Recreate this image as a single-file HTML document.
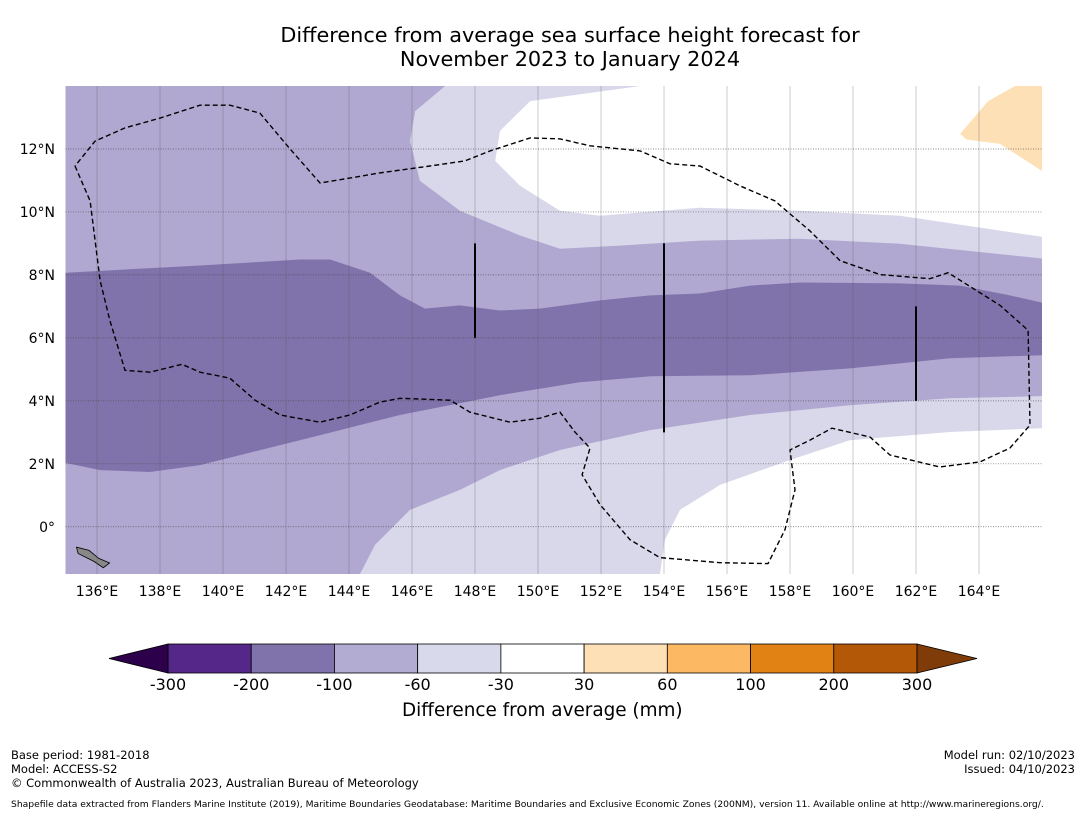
<!DOCTYPE html>
<html><head><meta charset="utf-8"><style>
body{margin:0;background:#fff;font-family:"DejaVu Sans","Liberation Sans",sans-serif;}
#wrap{position:relative;width:1085px;height:816px;overflow:hidden;}
.t{position:absolute;white-space:nowrap;color:#000;}
</style></head><body>
<div id="wrap">
<div class="t" style="left:0;width:1140px;top:23px;text-align:center;font-size:20.8px;line-height:24px;">Difference from average sea surface height forecast for<br>November 2023 to January 2024</div>
<svg id="map" width="1085" height="816" style="position:absolute;left:0;top:0"></svg>
<div class="t" style="left:402px;top:700px;font-size:18.4px;">Difference from average (mm)</div>
<div class="t" style="left:11px;top:748px;font-size:11.5px;line-height:14px;">Base period: 1981-2018<br>Model: ACCESS-S2<br>© Commonwealth of Australia 2023, Australian Bureau of Meteorology</div>
<div class="t" style="right:10px;top:748px;font-size:11.5px;line-height:14px;text-align:right;">Model run: 02/10/2023<br>Issued: 04/10/2023</div>
<div class="t" style="left:11px;top:799px;font-size:9.2px;">Shapefile data extracted from Flanders Marine Institute (2019), Maritime Boundaries Geodatabase: Maritime Boundaries and Exclusive Economic Zones (200NM), version 11. Available online at http://www.marineregions.org/.</div>
</div>
<script>
const lonTicks=[136,138,140,142,144,146,148,150,152,154,156,158,160,162,164];
const latTicks=[0,2,4,6,8,10,12];
const levels=[-300,-200,-100,-60,-30,30,60,100,200,300];
const levelColors=["#542788","#8073ac","#b2abd2","#d8daeb","#ffffff","#fee0b6","#fdb863","#e08214","#b35806"];
const darkBand=[[135,8.07],[139.27,8.3],[142.44,8.49],[143.4,8.49],[144.67,8.07],[145.62,7.35],[146.41,6.93],[147.52,7.03],[148.79,6.87],[150.06,6.93],[151.97,7.19],[153.56,7.35],[155.14,7.41],[156.73,7.66],[158.32,7.76],[161.49,7.73],[163.4,7.66],[164.98,7.35],[166,7.12],[166,5.45],[163.08,5.35],[159.9,5.03],[156.73,4.81],[153.56,4.78],[151.33,4.59],[148.79,4.18],[145.62,3.55],[142.44,2.75],[139.27,1.96],[137.68,1.74],[136.1,1.8],[135,2.03]];
const lightNorth=[[147.05,14],[146.1,13.2],[145.94,12.25],[146.25,10.99],[147.52,10.04],[149.43,9.25],[150.7,8.83],[152.6,8.93],[155.14,9.09],[158.32,9.15],[161.49,8.99],[166,8.52],[166,14]];
const whiteNorth=[[153.24,14],[149.75,13.52],[148.79,12.57],[148.64,11.62],[149.43,10.83],[150.7,10.04],[151.97,9.88],[155.14,10.13],[158.32,10.04],[161.49,9.88],[166,9.21],[166,14]];
const lightSouth=[[144.35,-1.5],[144.83,-0.57],[145.94,0.54],[147.52,1.17],[148.79,1.8],[150.7,2.44],[153.56,3.07],[156.73,3.55],[159.9,3.86],[163.08,4.08],[166,4.15],[166,-1.5]];
const whiteSouth=[[153.87,-1.5],[154.03,-0.41],[154.51,0.54],[155.78,1.33],[158,2.12],[159.9,2.75],[163.08,3.01],[166,3.13],[166,-1.5]];
const posNE=[[163.4,12.48],[164.29,13.52],[165.14,14],[166,14],[166,11.3],[164.67,12.16],[163.6,12.3]];
const eez=[[135.3,11.46],[135.78,10.35],[135.94,9.09],[136.1,7.82],[136.41,6.55],[136.89,4.97],[137.68,4.91],[138.7,5.16],[139.27,4.91],[140.22,4.72],[141.02,4.02],[141.81,3.55],[143.08,3.32],[144.03,3.55],[144.98,3.96],[145.62,4.08],[147.21,4.02],[147.84,3.64],[149.11,3.32],[150.06,3.45],[150.7,3.64],[151.17,3.01],[151.65,2.5],[151.4,1.65],[151.97,0.7],[152.92,-0.41],[153.87,-0.98],[155.78,-1.14],[157.3,-1.17],[157.84,-0.09],[158.16,1.17],[158,2.44],[158.63,2.75],[159.33,3.13],[160.54,2.85],[161.17,2.28],[162.76,1.9],[164.03,2.06],[164.98,2.5],[165.62,3.23],[165.56,6.24],[164.67,7.03],[163.02,8.07],[162.44,7.88],[160.86,8.01],[159.59,8.45],[158.63,9.4],[157.52,10.35],[156.41,10.83],[155.14,11.46],[154.19,11.53],[153.24,11.94],[151.65,12.1],[150.7,12.32],[149.75,12.35],[148.48,11.94],[147.68,11.62],[146.57,11.46],[144.98,11.24],[143.87,11.05],[143.08,10.92],[142.13,12],[141.17,13.14],[140.22,13.39],[139.27,13.39],[138,12.98],[136.89,12.67],[135.94,12.25],[135.3,11.46]];
const boxLines=[[148,6,9],[154,3,9],[162,4,7]];
const island=[[135.35,-0.65],[135.75,-0.75],[136.05,-1.0],[136.4,-1.15],[136.2,-1.3],[135.9,-1.1],[135.4,-0.85]];

const LON0=135,LON1=166,LAT0=-1.5,LAT1=14;
const PX0=65.5,PX1=1042,PY0=574,PY1=86;
const X=l=>PX0+(l-LON0)/(LON1-LON0)*(PX1-PX0);
const Y=l=>PY0-(l-LAT0)/(LAT1-LAT0)*(PY0-PY1);
const svg=document.getElementById('map');
const NS='http://www.w3.org/2000/svg';
const FF='DejaVu Sans, Liberation Sans, sans-serif';
function mk(t,a,p){const e=document.createElementNS(NS,t);for(const k in a)e.setAttribute(k,a[k]);(p||svg).appendChild(e);return e;}
const pts=arr=>arr.map(p=>X(p[0]).toFixed(1)+','+Y(p[1]).toFixed(1)).join(' ');
const cp=mk('clipPath',{id:'clip'});mk('rect',{x:PX0,y:PY1,width:PX1-PX0,height:PY0-PY1},cp);
const g=mk('g',{'clip-path':'url(#clip)'});
let e=mk('rect',{x:PX0,y:PY1,width:PX1-PX0,height:PY0-PY1,fill:'#b0a8d0'},g);

function poly(arr,fill,name){const p=mk('polygon',{points:pts(arr),fill:fill},g);}
poly(lightNorth,'#d8d8ea','band-30-60-north');
poly(whiteNorth,'#ffffff','band-neutral-north');
poly(lightSouth,'#d8d8ea','band-30-60-south');
poly(whiteSouth,'#ffffff','band-neutral-south');
poly(darkBand,'#8073ac','band-100-200');
poly(posNE,'#fee0b6','band-pos-30-60');
e=mk('polygon',{points:pts(island),fill:'#888',stroke:'#000','stroke-width':0.8},g);

lonTicks.forEach(l=>{const x=X(l);
 let ln=mk('line',{x1:x,x2:x,y1:PY1,y2:PY0,stroke:'#555','stroke-width':0.5,'stroke-opacity':0.6},g);
 
 let t=mk('text',{x:x,y:596,'font-size':14,'text-anchor':'middle','font-family':FF});t.textContent=l+'°E';
 });
latTicks.forEach(l=>{const y=Y(l);
 let ln=mk('line',{x1:PX0,x2:PX1,y1:y,y2:y,stroke:'#444','stroke-width':0.7,'stroke-dasharray':'1,1.5','stroke-opacity':0.8},g);
 
 let t=mk('text',{x:55,y:y+5,'font-size':14,'text-anchor':'end','font-family':FF});t.textContent=l===0?'0°':l+'°N';
 });
e=mk('polyline',{points:pts(eez),fill:'none',stroke:'#000','stroke-width':1.4,'stroke-dasharray':'5,3'},g);

boxLines.forEach(b=>{let ln=mk('line',{x1:X(b[0]),x2:X(b[0]),y1:Y(b[1]),y2:Y(b[2]),stroke:'#000','stroke-width':2},g);
 });
const CB0=168,CB1=917,CBY=644,CBH=29;
const segW=(CB1-CB0)/levelColors.length;
levelColors.forEach((c,i)=>{let r=mk('rect',{x:CB0+i*segW,y:CBY,width:segW,height:CBH,fill:c,stroke:'#000','stroke-width':0.8});
 });
e=mk('polygon',{points:`${CB0},${CBY} ${CB0},${CBY+CBH} 109,${CBY+CBH/2}`,fill:'#2d004b',stroke:'#000','stroke-width':0.8});

e=mk('polygon',{points:`${CB1},${CBY} ${CB1},${CBY+CBH} 977,${CBY+CBH/2}`,fill:'#7f3b08',stroke:'#000','stroke-width':0.8});

levels.forEach((v,i)=>{let t=mk('text',{x:CB0+i*segW,y:690,'font-size':16,'text-anchor':'middle','font-family':FF});t.textContent=v;
 });
</script>
</body></html>
